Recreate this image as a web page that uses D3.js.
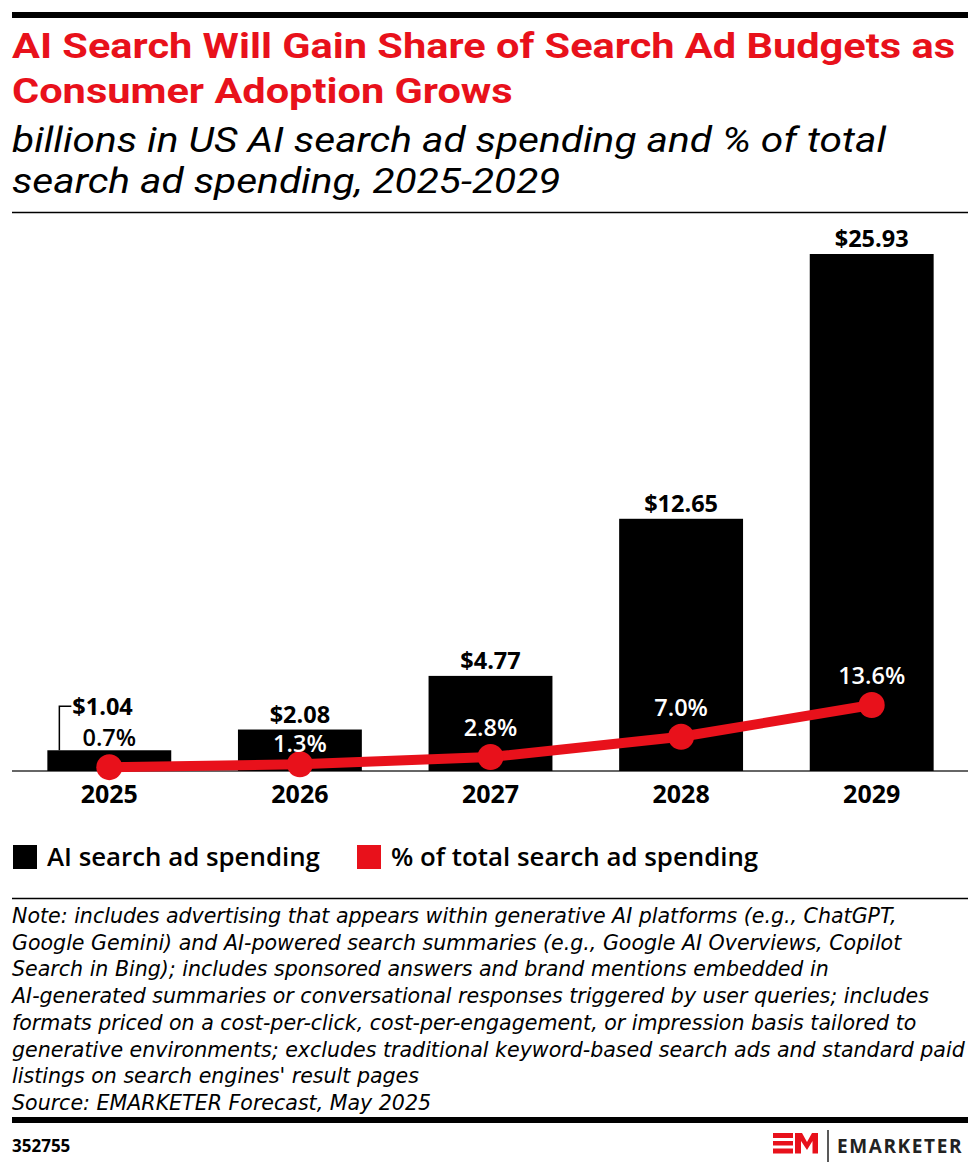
<!DOCTYPE html>
<html>
<head>
<meta charset="utf-8">
<script src="https://cdn.jsdelivr.net/npm/d3@7"></script>
<style>
  body { margin: 0; background: #fff; }
  svg { display: block; }
</style>
</head>
<body>
<div id="chart"></div>
<script>
// ── Datos ─────────────────────────────────────────────────────────────────
const years = ["2025", "2026", "2027", "2028", "2029"];
const spending = [1.04, 2.08, 4.77, 12.65, 25.93];      // billions
const shareOfTotal = [0.7, 1.3, 2.8, 7.0, 13.6];        // % of total search ad spending

const titleLines = [
  "AI Search Will Gain Share of Search Ad Budgets as",
  "Consumer Adoption Grows"
];
const subtitleLines = [
  "billions in US AI search ad spending and % of total",
  "search ad spending, 2025-2029"
];
const legendLabels = ["AI search ad spending", "% of total search ad spending"];
const noteLines = [
  "Note: includes advertising that appears within generative AI platforms (e.g., ChatGPT,",
  "Google Gemini) and AI-powered search summaries (e.g., Google AI Overviews, Copilot",
  "Search in Bing); includes sponsored answers and brand mentions embedded in",
  "AI-generated summaries or conversational responses triggered by user queries; includes",
  "formats priced on a cost-per-click, cost-per-engagement, or impression basis tailored to",
  "generative environments; excludes traditional keyword-based search ads and standard paid",
  "listings on search engines' result pages",
  "Source: EMARKETER Forecast, May 2025"
];
const chartId = "352755";

// ── Lienzo ────────────────────────────────────────────────────────────────
const width = 980;
const height = 1174;
const RED = "#e8111b";
const FONT = "'Open Sans', sans-serif";

const svg = d3.select("#chart")
  .append("svg")
  .attr("width", width)
  .attr("height", height)
  .attr("viewBox", [0, 0, width, height]);

svg.append("rect").attr("width", width).attr("height", height).attr("fill", "#fff");

// ajusta el tamaño de letra para que la línea más ancha ocupe "target" px
function fitFont(group, target) {
  const size = +group.attr("font-size");
  let widest = 0;
  group.selectAll("text").each(function () {
    widest = Math.max(widest, this.getComputedTextLength());
  });
  if (widest > 0) group.attr("font-size", (size * target / widest).toFixed(2));
}

// ensancha las líneas (misma proporción) para que la primera mida "target" px
function stretchLines(group, target) {
  const nodes = group.selectAll("text").nodes();
  const w0 = nodes[0].getComputedTextLength();
  if (!w0) return;
  const r = target / w0;
  nodes.forEach(n => {
    n.setAttribute("textLength", (n.getComputedTextLength() * r).toFixed(1));
    n.setAttribute("lengthAdjust", "spacingAndGlyphs");
  });
}

// ── Cabecera ──────────────────────────────────────────────────────────────
svg.append("rect")
  .attr("x", 12).attr("y", 12).attr("width", 956).attr("height", 6)
  .attr("fill", "#000");

const gTitle = svg.append("g")
  .attr("fill", RED)
  .attr("font-family", "Roboto, sans-serif")
  .attr("font-weight", 700)
  .attr("font-size", 35);
gTitle.selectAll("text")
  .data(titleLines)
  .join("text")
  .attr("x", 12)
  .attr("y", (d, i) => 58 + i * 44.5)
  .text(d => d);
stretchLines(gTitle, 943);

const gSub = svg.append("g")
  .attr("fill", "#000")
  .attr("font-family", "Roboto, sans-serif")
  .attr("font-style", "italic")
  .attr("font-size", 34.5)
  .attr("font-weight", 400);
gSub.selectAll("text")
  .data(subtitleLines)
  .join("text")
  .attr("x", 12)
  .attr("y", (d, i) => 152 + i * 41)
  .text(d => d);
stretchLines(gSub, 874);

svg.append("line")
  .attr("x1", 12).attr("x2", 968).attr("y1", 212.5).attr("y2", 212.5)
  .attr("stroke", "#000").attr("stroke-width", 1.5);

// ── Escalas ───────────────────────────────────────────────────────────────
const baseY = 771;
const x = d3.scaleBand()
  .domain(years)
  .range([14, 967])
  .paddingInner(0.35)
  .paddingOuter(0.175);

const y = d3.scaleLinear()
  .domain([0, d3.max(spending)])
  .range([baseY, 254]);

const yPct = d3.scaleLinear()
  .domain([0, d3.max(shareOfTotal)])
  .range([baseY - 0.5, 705]);

const rows = years.map((yr, i) => ({ year: yr, value: spending[i], pct: shareOfTotal[i] }));
const cx = d => x(d.year) + x.bandwidth() / 2;

// ── Eje base ──────────────────────────────────────────────────────────────
svg.append("line")
  .attr("x1", 12).attr("x2", 968).attr("y1", baseY).attr("y2", baseY)
  .attr("stroke", "#333").attr("stroke-width", 1.5);

// ── Barras ────────────────────────────────────────────────────────────────
svg.append("g")
  .selectAll("rect")
  .data(rows)
  .join("rect")
  .attr("x", d => x(d.year))
  .attr("y", d => y(d.value))
  .attr("width", x.bandwidth())
  .attr("height", d => baseY - y(d.value))
  .attr("fill", "#000");

// etiquetas de dólares (con guía si la barra es baja)
const gDollar = svg.append("g")
  .attr("font-family", FONT)
  .attr("font-weight", 700)
  .attr("font-size", 23.5)
  .attr("fill", "#000");

rows.forEach(d => {
  const label = `$${d.value.toFixed(2)}`;
  if (baseY - y(d.value) < 30) {
    const lx = x(d.year) + 12;
    const ly = y(d.value) - 44;
    gDollar.append("path")
      .attr("d", `M${lx},${y(d.value)}V${ly}H${lx + 12}`)
      .attr("fill", "none")
      .attr("stroke", "#000")
      .attr("stroke-width", 1.5);
    gDollar.append("text")
      .attr("x", lx + 13)
      .attr("y", ly + 8.5)
      .text(label);
  } else {
    gDollar.append("text")
      .attr("x", cx(d))
      .attr("y", y(d.value) - 7)
      .attr("text-anchor", "middle")
      .text(label);
  }
});

// ── Línea de porcentaje ───────────────────────────────────────────────────
const line = d3.line()
  .x(cx)
  .y(d => yPct(d.pct));

svg.append("path")
  .datum(rows)
  .attr("d", line)
  .attr("fill", "none")
  .attr("stroke", RED)
  .attr("stroke-width", 10)
  .attr("stroke-linejoin", "round");

svg.append("g")
  .selectAll("circle")
  .data(rows)
  .join("circle")
  .attr("cx", cx)
  .attr("cy", d => yPct(d.pct))
  .attr("r", 13)
  .attr("fill", RED);

// posición de la etiqueta %: encima del punto, o dentro de la barra si choca
function pctLabelY(d) {
  const top = y(d.value);
  let ly = yPct(d.pct) - 21;
  if (ly - 18 < top && baseY - top > 35) ly = Math.min(yPct(d.pct) - 12, top + 24);
  return ly;
}

svg.append("g")
  .attr("font-family", FONT)
  .attr("font-weight", 600)
  .attr("font-size", 23.5)
  .attr("text-anchor", "middle")
  .selectAll("text")
  .data(rows)
  .join("text")
  .attr("x", cx)
  .attr("y", pctLabelY)
  .attr("fill", d => (pctLabelY(d) - 17 > y(d.value) ? "#fff" : "#000"))
  .text(d => `${d.pct.toFixed(1)}%`);

// ── Eje X ─────────────────────────────────────────────────────────────────
svg.append("g")
  .attr("font-family", FONT)
  .attr("font-weight", 700)
  .attr("font-size", 25)
  .attr("text-anchor", "middle")
  .selectAll("text")
  .data(years)
  .join("text")
  .attr("x", d => x(d) + x.bandwidth() / 2)
  .attr("y", 803)
  .text(d => d);

// ── Leyenda ───────────────────────────────────────────────────────────────
const legend = svg.append("g")
  .attr("font-family", FONT)
  .attr("font-weight", 600)
  .attr("font-size", 24);

const legendX = [13, 357];
const legendColors = ["#000", RED];
legendLabels.forEach((lab, i) => {
  legend.append("rect")
    .attr("x", legendX[i]).attr("y", 845).attr("width", 24).attr("height", 24)
    .attr("fill", legendColors[i]);
  legend.append("text")
    .attr("x", legendX[i] + 34).attr("y", 866)
    .text(lab);
});
// la primera etiqueta mide ~273 px en la referencia
{
  const first = legend.select("text").node();
  const w = first.getComputedTextLength();
  if (w > 0) legend.attr("font-size", (24 * 273 / w).toFixed(2));
}

// ── Notas ─────────────────────────────────────────────────────────────────
svg.append("line")
  .attr("x1", 12).attr("x2", 968).attr("y1", 898.5).attr("y2", 898.5)
  .attr("stroke", "#000").attr("stroke-width", 1.5);

const gNotes = svg.append("g")
  .attr("font-family", "'DejaVu Sans', sans-serif")
  .attr("font-style", "italic")
  .attr("font-size", 20)
  .attr("fill", "#000");
gNotes.selectAll("text")
  .data(noteLines)
  .join("text")
  .attr("x", 12)
  .attr("y", (d, i) => 923 + i * 26.7)
  .text(d => d);
fitFont(gNotes, 953);

// ── Pie ───────────────────────────────────────────────────────────────────
svg.append("rect")
  .attr("x", 12).attr("y", 1117).attr("width", 956).attr("height", 6)
  .attr("fill", "#000");

svg.append("text")
  .attr("x", 12).attr("y", 1152)
  .attr("font-family", FONT)
  .attr("font-weight", 700)
  .attr("font-size", 17)
  .text(chartId);

// logotipo
const logo = svg.append("g").attr("transform", "translate(773,1133)");
logo.append("path")
  .attr("d", "M0,0H20V5H0Z M0,8H20V12.5H0Z M0,15.5H20V20.5H0Z")
  .attr("fill", RED);
logo.append("path")
  .attr("d", "M22,20.5V0H29L34,9L39,0H45V20.5H39.5V8L34,17L28,8V20.5Z")
  .attr("fill", RED);
svg.append("line")
  .attr("x1", 828).attr("x2", 828).attr("y1", 1130).attr("y2", 1162)
  .attr("stroke", "#222").attr("stroke-width", 1.5);
svg.append("text")
  .attr("x", 837).attr("y", 1153)
  .attr("font-family", FONT)
  .attr("font-weight", 700)
  .attr("font-size", 19)
  .attr("letter-spacing", 1.6)
  .attr("fill", "#222")
  .text("EMARKETER");
</script>
</body>
</html>
